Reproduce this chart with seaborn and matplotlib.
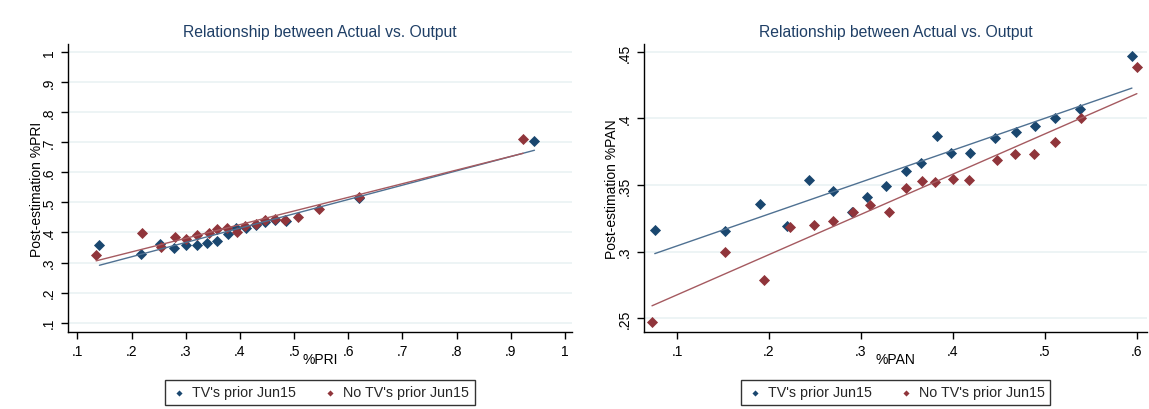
import numpy as np
import pandas as pd
import matplotlib.pyplot as plt
import seaborn as sns
from matplotlib.ticker import FuncFormatter

''' Data read from the chart '''
# Left panel: %PRI
pri_tv_x = [0.1408, 0.2175, 0.2533, 0.2793, 0.2997, 0.3207, 0.3392, 0.3572, 0.378,
            0.3937, 0.411, 0.4295, 0.4462, 0.4647, 0.4851, 0.62, 0.9437]
pri_tv_y = [0.357, 0.329, 0.3617, 0.348, 0.360, 0.358, 0.365, 0.3727, 0.396,
            0.415, 0.415, 0.426, 0.435, 0.4405, 0.4367, 0.515, 0.7055]
pri_notv_x = [0.1347, 0.2194, 0.2546, 0.2812, 0.301, 0.3207, 0.3424, 0.3572, 0.3757, 0.3943,
              0.4097, 0.4295, 0.4462, 0.4647, 0.4833, 0.508, 0.5469, 0.62, 0.9228]
pri_notv_y = [0.326, 0.398, 0.3527, 0.386, 0.377, 0.3917, 0.398, 0.410, 0.4137, 0.400,
              0.4217, 0.4284, 0.4418, 0.446, 0.4425, 0.4525, 0.4776, 0.518, 0.7108]

# Right panel: %PAN
pan_tv_x = [0.0758, 0.1526, 0.1902, 0.2192, 0.2435, 0.2696, 0.2902, 0.3065, 0.3276, 0.3486,
            0.3649, 0.3823, 0.3975, 0.4185, 0.4453, 0.4689, 0.4888, 0.5109, 0.5380, 0.5946]
pan_tv_y = [0.3164, 0.3156, 0.3355, 0.319, 0.354, 0.3455, 0.3295, 0.341, 0.3493, 0.3605,
            0.3668, 0.3868, 0.374, 0.374, 0.385, 0.3896, 0.3944, 0.4006, 0.407, 0.4472]
pan_notv_x = [0.0728, 0.1526, 0.1946, 0.2233, 0.2489, 0.2696, 0.2913, 0.3098, 0.3304, 0.3493,
              0.3660, 0.3809, 0.4000, 0.4174, 0.4478, 0.4678, 0.4877, 0.5109, 0.5388, 0.6000]
pan_notv_y = [0.2468, 0.2999, 0.2788, 0.3182, 0.3202, 0.323, 0.3295, 0.3347, 0.330, 0.3477,
              0.353, 0.3523, 0.3545, 0.3538, 0.3686, 0.3731, 0.3731, 0.3823, 0.4006, 0.439]

labels = ["TV's prior Jun15", "No TV's prior Jun15"]
blue = "#1a476f"
red = "#90353b"
title_color = "#1f3f66"

sns.set_theme(style="white")
plt.rcParams['font.family'] = ['Liberation Sans', 'DejaVu Sans']


def stata_fmt(v, pos):
    s = f"{v:.2f}".rstrip("0").rstrip(".")
    if s.startswith("0."):
        s = s[1:]
    return s


def panel(ax, tv_x, tv_y, notv_x, notv_y, var, xticks, yticks, xlim, ylim, ylab_x):
    sns.regplot(x=np.array(tv_x), y=np.array(tv_y), ax=ax, ci=None, marker="D", color=blue,
                scatter_kws={"s": 32, "linewidths": 0, "alpha": 1}, line_kws={"lw": 1, "color": "#4f7192"},
                label=labels[0])
    sns.regplot(x=np.array(notv_x), y=np.array(notv_y), ax=ax, ci=None, marker="D", color=red,
                scatter_kws={"s": 32, "linewidths": 0, "alpha": 1}, line_kws={"lw": 1, "color": "#a55a60"},
                label=labels[1])
    ax.set_xlim(xlim)
    ax.set_ylim(ylim)
    ax.set_xticks(xticks)
    ax.set_yticks(yticks)
    ax.xaxis.set_major_formatter(FuncFormatter(stata_fmt))
    ax.yaxis.set_major_formatter(FuncFormatter(stata_fmt))
    ax.grid(axis="y", color="#eaf2f3", lw=1.2)
    ax.set_axisbelow(True)
    for s in ["top", "right"]:
        ax.spines[s].set_visible(False)
    for s in ["left", "bottom"]:
        ax.spines[s].set_color("black")
        ax.spines[s].set_linewidth(1)
    ax.tick_params(axis="both", direction="out", length=5, width=1, color="black",
                   labelsize=10, labelcolor="black", bottom=True, left=True)
    for t in ax.get_yticklabels():
        t.set_rotation(90)
        t.set_va("center")
    ax.set_xlabel("%" + var, fontsize=10, color="black")
    ax.set_ylabel("Post-estimation %" + var, fontsize=10, color="black")
    ax.xaxis.set_label_coords(0.5, -0.07)
    ax.yaxis.set_label_coords(ylab_x, 0.5)
    ax.set_title("Relationship between Actual vs. Output", fontsize=11.3, color=title_color, pad=6)
    # legend with only the marker entries
    handles, labs = ax.get_legend_handles_labels()
    keep = [(h, l) for h, l in zip(handles, labs) if l in labels][:2]
    leg = ax.legend([k[0] for k in keep], [k[1] for k in keep], loc="center",
                    bbox_to_anchor=(0.5, -0.21), ncol=2, frameon=True, fancybox=False,
                    edgecolor="black", fontsize=10.3, markerscale=0.55, handletextpad=0.3,
                    columnspacing=1.8, borderpad=0.4, handlelength=1.2)
    leg.get_frame().set_linewidth(1)


fig = plt.figure(figsize=(11.49, 4.10), dpi=100)
ax1 = fig.add_axes([68 / 1149, 1 - 333 / 410, 504 / 1149, 288 / 410])
ax2 = fig.add_axes([644 / 1149, 1 - 333 / 410, 503 / 1149, 288 / 410])

panel(ax1, pri_tv_x, pri_tv_y, pri_notv_x, pri_notv_y, "PRI",
      np.arange(0.1, 1.01, 0.1), np.arange(0.1, 1.01, 0.1), (0.0828, 1.013), (0.069, 1.027), -0.047)
panel(ax2, pan_tv_x, pan_tv_y, pan_notv_x, pan_notv_y, "PAN",
      np.arange(0.1, 0.61, 0.1), np.arange(0.25, 0.451, 0.05), (0.0641, 0.611), (0.2395, 0.456), -0.049)

fig.savefig("out.png", dpi=100)
